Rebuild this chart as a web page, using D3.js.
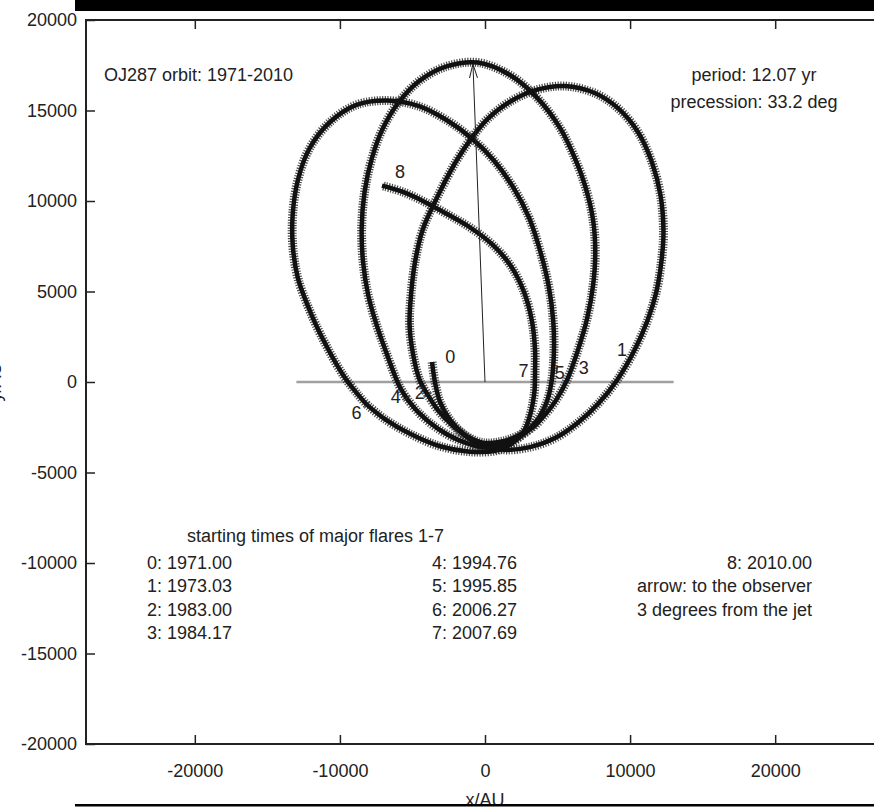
<!DOCTYPE html>
<html lang="en">
<head>
  <meta charset="UTF-8">
  <title>OJ287 orbit</title>
  <style>
    body { margin: 0; background: #ffffff; }
    svg text { font-family: "Liberation Sans", Arial, sans-serif; fill: #222; }
  </style>
</head>
<body>
  <svg id="chart"></svg>
  <script src="https://d3js.org/d3.v7.min.js"></script>
  <script>
    const width = 874;
    const height = 810;

    const xTicks = [-20000, -10000, 0, 10000, 20000];
    const yTicks = [-20000, -15000, -10000, -5000, 0, 5000, 10000, 15000, 20000];

    // track, split at the flare points 0, 2, 4, 6
    const seg1971 = [[-3650,1100],[-3450,0],[-3100,-1100],[-2400,-2100],[-1450,-2900],[-150,-3550],[1380,-3750],[3100,-3600],[4830,-3100],[6400,-2250],[7800,-1200],[9100,100],[10300,1750],[11200,3400],[11800,4950],[12150,6600],[12300,8300],[12100,10300],[11500,12150],[10550,13800],[9200,15100],[7600,15950],[5500,16350],[3600,16150],[1750,15500],[200,14550],[-950,13450],[-1950,12250],[-3300,10200],[-4300,8400],[-4830,6600],[-5100,4800],[-5200,3150],[-4950,1500],[-4500,100],[-3950,-700]];
    const seg1983 = [[-3950,-700],[-3250,-1550],[-2300,-2350],[-1250,-3000],[-150,-3350],[1050,-3300],[2200,-3000],[3300,-2500],[4200,-1750],[4900,-1000],[5650,100],[6400,1750],[7050,3550],[7450,5350],[7600,7150],[7450,8950],[6950,10700],[6200,12350],[5200,14000],[3600,15700],[1750,16950],[-500,17650],[-2600,17450],[-4500,16650],[-5950,15450],[-7050,14000],[-7800,12350],[-8300,10500],[-8500,8500],[-8400,6600],[-8050,4800],[-7450,3100],[-6700,1400],[-5950,-150],[-5400,-900]];
    const seg1995 = [[-5400,-900],[-4500,-1750],[-3300,-2550],[-1850,-3200],[-150,-3600],[1400,-3400],[2700,-2850],[3650,-2050],[4300,-1000],[4600,100],[4750,1650],[4700,3400],[4400,5250],[3850,7100],[3050,9050],[1950,10750],[600,12250],[-900,13450],[-2600,14450],[-4600,15250],[-6750,15550],[-8900,15300],[-10700,14350],[-12100,12900],[-12900,11150],[-13250,9300],[-13250,7550],[-12900,5750],[-11950,3700],[-10900,1950],[-9750,350],[-8750,-700],[-8150,-1250]];
    const seg2007 = [[-8150,-1250],[-6900,-2050],[-5200,-2850],[-3100,-3550],[-1050,-3850],[700,-3800],[1850,-3400],[2700,-2700],[3150,-1700],[3400,-600],[3450,650],[3450,1750],[3250,3300],[2700,4950],[1750,6450],[500,7600],[-1050,8550],[-2550,9250],[-4150,9950],[-5650,10500],[-7100,10850]];

    const flareIds = ["0", "1", "2", "3", "4", "5", "6", "7", "8"];
    const flareAt = [[-2400,1400],[9450,1800],[-4500,-600],[6800,800],[-6150,-800],[5150,500],[-8850,-1700],[2650,600],[-5850,11600]];

    const baseLine = [[-13000, 0], [13000, 0]];
    const observer = [[0, 0], [-830, 17570]];

    const times1 = ["0: 1971.00", "1: 1973.03", "2: 1983.00", "3: 1984.17"];
    const times2 = ["4: 1994.76", "5: 1995.85", "6: 2006.27", "7: 2007.69"];
    const notes = ["8: 2010.00", "arrow: to the observer", "3 degrees from the jet"];

    const svg = d3.select("#chart").attr("width", width).attr("height", height);

    const x = d3.scaleLinear().domain([-27500, 27500]).range([86, 884]);
    const y = d3.scaleLinear().domain([-20000, 20000]).range([744, 20]);

    // black strip from the scan
    svg.append("rect").attr("x", 75).attr("y", 0).attr("width", width - 75).attr("height", 11).attr("fill", "#000");

    // axes with inward ticks
    const fmt = d => String(d);
    svg.append("g")
      .attr("transform", `translate(0,${y(-20000)})`)
      .call(d3.axisBottom(x).tickValues(xTicks).tickFormat(fmt).tickSizeInner(-9).tickSizeOuter(0).tickPadding(20))
      .call(g => g.select(".domain").remove());
    svg.append("g")
      .attr("transform", `translate(0,${y(20000)})`)
      .call(d3.axisTop(x).tickValues(xTicks).tickFormat("").tickSizeInner(-9).tickSizeOuter(0))
      .call(g => g.select(".domain").remove());
    svg.append("g")
      .attr("transform", `translate(${x(-27500)},0)`)
      .call(d3.axisLeft(y).tickValues(yTicks).tickFormat(fmt).tickSizeInner(-9).tickSizeOuter(0).tickPadding(9))
      .call(g => g.select(".domain").remove());

    svg.selectAll(".tick line").attr("stroke", "#222").attr("stroke-width", 1.5);
    svg.selectAll(".tick text").style("font-size", "18px").style("font-family", "'Liberation Sans', Arial, sans-serif").attr("fill", "#222");

    svg.append("rect")
      .attr("x", x(-27500)).attr("y", y(20000))
      .attr("width", x(27500) - x(-27500)).attr("height", y(-20000) - y(20000))
      .attr("fill", "none").attr("stroke", "#222").attr("stroke-width", 2);

    // y = 0 reference line
    svg.append("line")
      .attr("x1", x(baseLine[0][0])).attr("y1", y(baseLine[0][1]))
      .attr("x2", x(baseLine[1][0])).attr("y2", y(baseLine[1][1]))
      .attr("stroke", "#a0a0a0").attr("stroke-width", 2.5);

    // orbit track: dense "+" points look like a thick hatched band
    const line = d3.line().x(d => x(d[0])).y(d => y(d[1])).curve(d3.curveCatmullRom.alpha(0.5));
    const segs = [seg1971, seg1983, seg1995, seg2007];
    svg.append("g").selectAll("path.fringe").data(segs).join("path")
      .attr("class", "fringe")
      .attr("d", line)
      .attr("fill", "none").attr("stroke", "#2a2a2a").attr("stroke-width", 9)
      .attr("stroke-dasharray", "1.2 1.4").attr("opacity", 0.85);
    svg.append("g").selectAll("path.core").data(segs).join("path")
      .attr("class", "core")
      .attr("d", line)
      .attr("fill", "none").attr("stroke", "#111").attr("stroke-width", 4.5);

    // arrow to the observer
    svg.append("defs").append("marker")
      .attr("id", "head").attr("viewBox", "0 -5 14 10")
      .attr("refX", 14).attr("refY", 0)
      .attr("markerWidth", 14).attr("markerHeight", 10)
      .attr("markerUnits", "userSpaceOnUse").attr("orient", "auto")
      .append("path").attr("d", "M0,-4L14,0L0,4")
      .attr("fill", "none").attr("stroke", "#222").attr("stroke-width", 1);
    svg.append("line")
      .attr("x1", x(observer[0][0])).attr("y1", y(observer[0][1]))
      .attr("x2", x(observer[1][0])).attr("y2", y(observer[1][1]))
      .attr("stroke", "#222").attr("stroke-width", 1)
      .attr("marker-end", "url(#head)");

    // flare numbers
    svg.append("g").selectAll("text").data(flareIds).join("text")
      .attr("x", (d, i) => x(flareAt[i][0]))
      .attr("y", (d, i) => y(flareAt[i][1]))
      .attr("text-anchor", "middle").attr("dy", "0.35em")
      .style("font-size", "18px")
      .text(d => d);

    // text labels
    const lab = (tx, ty, s, anchor) => svg.append("text")
      .attr("x", tx).attr("y", ty).attr("text-anchor", anchor || "start")
      .style("font-size", "18px").text(s);

    lab(104, 81, "OJ287 orbit: 1971-2010");
    lab(754, 81, "period: 12.07 yr", "middle");
    lab(754, 108, "precession: 33.2 deg", "middle");
    lab(187, 542, "starting times of major flares 1-7");
    times1.forEach((s, i) => lab(147, 569 + i * 23.3, s));
    times2.forEach((s, i) => lab(432, 569 + i * 23.3, s));
    notes.forEach((s, i) => lab(812, 569 + i * 23.3, s, "end"));

    lab(485, 806, "x/AU", "middle");
    svg.append("text")
      .attr("transform", `translate(1,${y(0)}) rotate(-90)`)
      .attr("text-anchor", "middle")
      .style("font-size", "18px").text("y/AU");

    svg.append("rect").attr("x", 75).attr("y", 804).attr("width", width - 75).attr("height", 2.5).attr("fill", "#000");
  </script>
</body>
</html>
